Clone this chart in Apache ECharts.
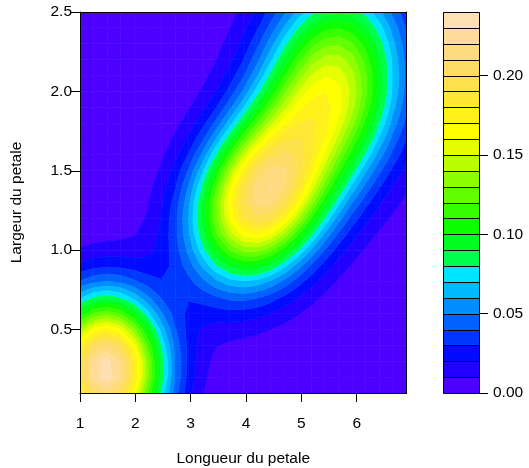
<!DOCTYPE html>
<html><head><meta charset="utf-8">
<script src="https://cdn.jsdelivr.net/npm/echarts@6/dist/echarts.min.js"></script>
<style>html,body{margin:0;padding:0;background:#fff}#c{width:529px;height:468px}</style>
</head><body><div id="c"></div>
<script>
// Grid of the density estimate (petal length on x, petal width on y)
const xGrid = [1.0000,1.2458,1.4917,1.7375,1.9833,2.2292,2.4750,2.7208,2.9667,3.2125,3.4583,3.7042,3.9500,4.1958,4.4417,4.6875,4.9333,5.1792,5.4250,5.6708,5.9167,6.1625,6.4083,6.6542,6.9000];
const yGrid = [0.1,0.2,0.3,0.4,0.5,0.6,0.7,0.8,0.9,1.0,1.1,1.2,1.3,1.4,1.5,1.6,1.7,1.8,1.9,2.0,2.1,2.2,2.3,2.4,2.5];
// density rows, one per y value
const z01 = [0.1728,0.2041,0.2136,0.1982,0.1631,0.1190,0.0770,0.0443,0.0227,0.0105,0.0046,0.0020,0.0009,0.0005,0.0003,0.0002,0.0001,0,0,0,0,0,0,0,0];
const z02 = [0.1903,0.2248,0.2353,0.2184,0.1798,0.1312,0.0851,0.0492,0.0256,0.0123,0.0058,0.0029,0.0017,0.0012,0.0008,0.0006,0.0004,0.0002,0.0001,0,0,0,0,0,0];
const z03 = [0.1895,0.2238,0.2344,0.2176,0.1792,0.1311,0.0854,0.0499,0.0267,0.0137,0.0075,0.0047,0.0035,0.0027,0.0020,0.0014,0.0009,0.0006,0.0003,0.0002,0.0001,0,0,0,0];
const z04 = [0.1707,0.2017,0.2112,0.1961,0.1618,0.1186,0.0780,0.0467,0.0265,0.0155,0.0105,0.0083,0.0071,0.0059,0.0047,0.0034,0.0022,0.0014,0.0008,0.0004,0.0002,0.0001,0,0,0];
const z05 = [0.1389,0.1642,0.1719,0.1600,0.1322,0.0977,0.0655,0.0411,0.0262,0.0187,0.0158,0.0149,0.0139,0.0123,0.0100,0.0075,0.0052,0.0033,0.0019,0.0011,0.0006,0.0003,0.0001,0,0];
const z06 = [0.1024,0.1209,0.1269,0.1182,0.0983,0.0738,0.0515,0.0357,0.0272,0.0245,0.0249,0.0258,0.0254,0.0232,0.0195,0.0150,0.0106,0.0068,0.0041,0.0023,0.0013,0.0007,0.0003,0.0002,0.0001];
const z07 = [0.0682,0.0806,0.0846,0.0793,0.0668,0.0518,0.0393,0.0321,0.0308,0.0338,0.0386,0.0425,0.0433,0.0406,0.0349,0.0275,0.0199,0.0132,0.0082,0.0048,0.0026,0.0013,0.0007,0.0004,0.0002];
const z08 = [0.0411,0.0486,0.0513,0.0485,0.0421,0.0350,0.0307,0.0313,0.0370,0.0466,0.0570,0.0650,0.0683,0.0656,0.0578,0.0465,0.0344,0.0235,0.0150,0.0089,0.0050,0.0028,0.0015,0.0008,0.0004];
const z09 = [0.0224,0.0266,0.0283,0.0274,0.0251,0.0238,0.0258,0.0328,0.0452,0.0614,0.0783,0.0921,0.0992,0.0977,0.0880,0.0726,0.0551,0.0387,0.0253,0.0155,0.0091,0.0051,0.0029,0.0016,0.0009];
const z10 = [0.0111,0.0132,0.0144,0.0146,0.0150,0.0172,0.0234,0.0353,0.0531,0.0757,0.0998,0.1204,0.1327,0.1338,0.1235,0.1047,0.0816,0.0590,0.0398,0.0253,0.0154,0.0091,0.0052,0.0029,0.0016];
const z11 = [0.0050,0.0060,0.0068,0.0076,0.0094,0.0136,0.0223,0.0370,0.0589,0.0868,0.1173,0.1450,0.1637,0.1692,0.1602,0.1394,0.1119,0.0833,0.0582,0.0384,0.0243,0.0149,0.0088,0.0051,0.0029];
const z12 = [0.0021,0.0026,0.0031,0.0041,0.0064,0.0113,0.0208,0.0368,0.0607,0.0918,0.1272,0.1611,0.1863,0.1975,0.1920,0.1719,0.1424,0.1098,0.0796,0.0547,0.0360,0.0230,0.0142,0.0085,0.0049];
const z13 = [0.0008,0.0010,0.0015,0.0024,0.0046,0.0094,0.0185,0.0341,0.0578,0.0897,0.1273,0.1652,0.1960,0.2133,0.2134,0.1971,0.1688,0.1353,0.1021,0.0734,0.0505,0.0335,0.0215,0.0132,0.0078];
const z14 = [0.0003,0.0004,0.0006,0.0014,0.0034,0.0075,0.0153,0.0291,0.0508,0.0809,0.1177,0.1567,0.1910,0.2140,0.2210,0.2111,0.1879,0.1568,0.1238,0.0932,0.0673,0.0466,0.0310,0.0196,0.0118];
const z15 = [0,0.0001,0.0003,0.0009,0.0024,0.0055,0.0118,0.0231,0.0414,0.0675,0.1009,0.1380,0.1733,0.2004,0.2142,0.2127,0.1974,0.1725,0.1430,0.1129,0.0853,0.0616,0.0424,0.0276,0.0170];
const z16 = [0,0.0001,0.0002,0.0006,0.0016,0.0039,0.0085,0.0170,0.0312,0.0524,0.0804,0.1135,0.1472,0.1765,0.1962,0.2035,0.1979,0.1817,0.1582,0.1311,0.1035,0.0776,0.0551,0.0368,0.0231];
const z17 = [0,0,0.0001,0.0004,0.0010,0.0025,0.0057,0.0117,0.0220,0.0380,0.0602,0.0879,0.1184,0.1478,0.1718,0.1869,0.1911,0.1846,0.1689,0.1466,0.1204,0.0934,0.0681,0.0466,0.0297];
const z18 = [0,0,0.0001,0.0002,0.0006,0.0015,0.0035,0.0075,0.0146,0.0260,0.0428,0.0650,0.0913,0.1193,0.1457,0.1667,0.1795,0.1823,0.1747,0.1579,0.1343,0.1072,0.0801,0.0558,0.0362];
const z19 = [0,0,0,0.0001,0.0003,0.0009,0.0021,0.0046,0.0093,0.0172,0.0294,0.0467,0.0688,0.0944,0.1213,0.1461,0.1651,0.1755,0.1751,0.1639,0.1436,0.1175,0.0896,0.0635,0.0418];
const z20 = [0,0,0,0.0001,0.0002,0.0005,0.0012,0.0027,0.0057,0.0111,0.0199,0.0332,0.0514,0.0742,0.1000,0.1262,0.1490,0.1645,0.1698,0.1636,0.1468,0.1226,0.0951,0.0684,0.0457];
const z21 = [0,0,0,0,0.0001,0.0003,0.0007,0.0016,0.0036,0.0073,0.0137,0.0239,0.0387,0.0584,0.0823,0.1079,0.1319,0.1502,0.1592,0.1568,0.1435,0.1218,0.0958,0.0698,0.0471];
const z22 = [0,0,0,0,0,0.0002,0.0004,0.0010,0.0023,0.0049,0.0096,0.0175,0.0296,0.0463,0.0674,0.0912,0.1145,0.1335,0.1444,0.1448,0.1345,0.1158,0.0922,0.0679,0.0463];
const z23 = [0,0,0,0,0,0.0001,0.0002,0.0007,0.0016,0.0034,0.0070,0.0131,0.0227,0.0366,0.0547,0.0756,0.0969,0.1150,0.1264,0.1285,0.1210,0.1053,0.0848,0.0631,0.0434];
const z24 = [0,0,0,0,0,0.0001,0.0001,0.0004,0.0011,0.0024,0.0051,0.0097,0.0173,0.0285,0.0433,0.0609,0.0793,0.0954,0.1062,0.1094,0.1041,0.0916,0.0745,0.0560,0.0389];
const z25 = [0,0,0,0,0,0,0.0001,0.0003,0.0007,0.0018,0.0037,0.0072,0.0129,0.0216,0.0333,0.0474,0.0625,0.0761,0.0856,0.0891,0.0856,0.0760,0.0624,0.0473,0.0332];
const zRows = [z01,z02,z03,z04,z05,z06,z07,z08,z09,z10,z11,z12,z13,z14,z15,z16,z17,z18,z19,z20,z21,z22,z23,z24,z25];

const levels = [0,0.01,0.02,0.03,0.04,0.05,0.06,0.07,0.08,0.09,0.10,0.11,0.12,0.13,0.14,0.15,0.16,0.17,0.18,0.19,0.20,0.21,0.22,0.23,0.24];
const bandColors = ["#4C00FF","#2100FF","#000BFF","#0037FF","#0062FF","#008EFF","#00B9FF","#00E5FF","#00FF4D","#00FF21","#0BFF00","#37FF00","#62FF00","#8EFF00","#B9FF00","#E5FF00","#FFFF00","#FFF21A","#FFE833","#FFE04D","#FFDC66","#FFDB80","#FFDC99","#FFE0B3"];
const xTicks = [1,2,3,4,5,6];
const yTicks = [0.5,1.0,1.5,2.0,2.5];
const barTicks = [0,0.05,0.10,0.15,0.20];

// cells of the grid
const cells = [];
for (let j = 0; j < yGrid.length - 1; j++) {
  for (let i = 0; i < xGrid.length - 1; i++) {
    cells.push([xGrid[i], yGrid[j], xGrid[i+1], yGrid[j+1],
      zRows[j][i], zRows[j][i+1], zRows[j+1][i+1], zRows[j+1][i]]);
  }
}
const bands = [];
for (let b = 0; b < levels.length - 1; b++) bands.push([levels[b], levels[b+1], b]);

// polygon of the part of a grid cell whose value lies in [lo, hi]
function bandPoly(P, Z, lo, hi) {
  const pts = [];
  for (let k = 0; k < 4; k++) {
    const a = k, b = (k + 1) % 4;
    const za = Z[a], zb = Z[b];
    if (za >= lo && za <= hi) pts.push(P[a]);
    const cr = [];
    [lo, hi].forEach(function (lev) {
      if ((za - lev) * (zb - lev) < 0) cr.push((lev - za) / (zb - za));
    });
    cr.sort(function (u, v) { return u - v; });
    cr.forEach(function (t) {
      pts.push([P[a][0] + t * (P[b][0] - P[a][0]), P[a][1] + t * (P[b][1] - P[a][1])]);
    });
  }
  return pts;
}

const FONT = '"Liberation Sans", Arial, Helvetica, sans-serif';
const FS = 15.5;
const chart = echarts.init(document.getElementById('c'), null, {renderer: 'canvas'});
const axisLineStyle = {color: '#000', width: 1};
chart.setOption({
  animation: false,
  backgroundColor: '#fff',
  grid: [
    {left: 80, top: 12, right: 122.5, bottom: 75, show: false, containLabel: false, outerBoundsMode: 'none'},
    {left: 443, top: 12, width: 36, bottom: 75, show: false, containLabel: false, outerBoundsMode: 'none'}
  ],
  xAxis: [
    {gridIndex: 0, type: 'value', min: 1, max: 6.9, position: 'bottom', z: 10,
     name: 'Longueur du petale', nameLocation: 'middle', nameGap: 58,
     nameTextStyle: {fontFamily: FONT, fontSize: FS, color: '#000'},
     axisLine: {show: true, onZero: false, lineStyle: axisLineStyle},
     axisTick: {show: true, length: 9, customValues: xTicks, lineStyle: {color: '#000'}},
     axisLabel: {customValues: xTicks, margin: 23, fontFamily: FONT, fontSize: FS, color: '#000',
                 formatter: function (v) { return String(v); }},
     splitLine: {show: false}},
    {gridIndex: 0, type: 'value', min: 1, max: 6.9, position: 'top', z: 10,
     axisLine: {show: true, onZero: false, lineStyle: axisLineStyle},
     axisTick: {show: false}, axisLabel: {show: false}, splitLine: {show: false}},
    {gridIndex: 1, type: 'value', min: 0, max: 1, show: false,
     axisLine: {show: false, onZero: false}, axisTick: {show: false}, axisLabel: {show: false}, splitLine: {show: false}}
  ],
  yAxis: [
    {gridIndex: 0, type: 'value', min: 0.1, max: 2.5, position: 'left', z: 10,
     name: 'Largeur du petale', nameLocation: 'middle', nameGap: 55, nameRotate: 90,
     nameTextStyle: {fontFamily: FONT, fontSize: FS, color: '#000'},
     axisLine: {show: true, onZero: false, lineStyle: axisLineStyle},
     axisTick: {show: true, length: 9, customValues: yTicks, lineStyle: {color: '#000'}},
     axisLabel: {customValues: yTicks, margin: 8, fontFamily: FONT, fontSize: FS, color: '#000',
                 formatter: function (v) { return v.toFixed(1); }},
     splitLine: {show: false}},
    {gridIndex: 0, type: 'value', min: 0.1, max: 2.5, position: 'right', z: 10,
     axisLine: {show: true, onZero: false, lineStyle: axisLineStyle},
     axisTick: {show: false}, axisLabel: {show: false}, splitLine: {show: false}},
    {gridIndex: 1, type: 'value', min: 0, max: 0.24, position: 'right', z: 10,
     axisLine: {show: false, onZero: false},
     axisTick: {show: true, length: 9, customValues: barTicks, lineStyle: {color: '#000'}},
     axisLabel: {customValues: barTicks, margin: 14, fontFamily: FONT, fontSize: FS, color: '#000',
                 formatter: function (v) { return v.toFixed(2); }},
     splitLine: {show: false}}
  ],
  series: [
    {type: 'custom', xAxisIndex: 0, yAxisIndex: 0, clip: true, data: cells,
     encode: {x: [0, 2], y: [1, 3]},
     renderItem: function (params, api) {
       const x0 = api.value(0), y0 = api.value(1), x1 = api.value(2), y1 = api.value(3);
       const Z = [api.value(4), api.value(5), api.value(6), api.value(7)];
       const P = [api.coord([x0, y0]), api.coord([x1, y0]), api.coord([x1, y1]), api.coord([x0, y1])];
       const zmin = Math.min.apply(null, Z), zmax = Math.max.apply(null, Z);
       const children = [];
       for (let b = 0; b < levels.length - 1; b++) {
         const lo = levels[b], hi = levels[b + 1];
         if (zmax < lo || zmin > hi) continue;
         const pts = bandPoly(P, Z, lo, hi);
         if (pts.length >= 3) {
           children.push({type: 'polygon', shape: {points: pts},
             style: {fill: bandColors[b], stroke: bandColors[b], lineWidth: 0.6}});
         }
       }
       return {type: 'group', children: children};
     }},
    {type: 'custom', xAxisIndex: 2, yAxisIndex: 2, data: bands,
     renderItem: function (params, api) {
       const p0 = api.coord([0, api.value(0)]);
       const p1 = api.coord([1, api.value(1)]);
       const xl = Math.round(p0[0]) + 0.5, xr = Math.round(p1[0]) + 0.5;
       const yb = Math.round(p0[1]) + 0.5, yt = Math.round(p1[1]) + 0.5;
       return {type: 'rect',
         shape: {x: xl, y: yt, width: xr - xl, height: yb - yt},
         style: {fill: bandColors[api.value(2)], stroke: '#000', lineWidth: 1}};
     }}
  ]
});
</script>
</body></html>
